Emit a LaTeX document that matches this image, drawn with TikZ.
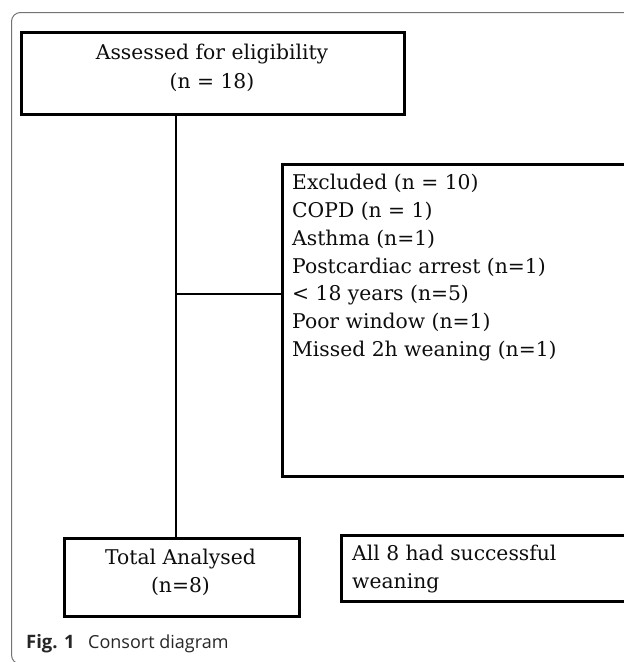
\documentclass[tikz,border=0pt]{standalone}
\usepackage{fontspec}
\setmainfont{DejaVu Serif}
\newfontfamily\capfont{Open Sans}
\begin{document}
\begin{tikzpicture}[x=1pt,y=-1pt,
  box/.style={draw=black, line width=2.6pt, rectangle, anchor=north west, inner sep=0pt},
  boxtext/.style={font=\fontsize{20.3}{27.8}\selectfont, text=black!95},
  link/.style={draw=black, line width=2.4pt},
  captext/.style={anchor=base west, inner sep=0pt, text=black!85}]
\useasboundingbox (0,0) rectangle (624,662);
\clip (0,0) rectangle (624,662);
\draw[black!55, line width=1pt, rounded corners=9pt] (11.5,12.5) rectangle (660,664);
% boxes
\node[box, minimum width=383pt, minimum height=82pt] (top) at (20,31) {};
\node[boxtext, align=center, font=\fontsize{20.3}{29.5}\selectfont] (toptext) at (212,68) {Assessed for eligibility\\(n = 18)};
\node[box, minimum width=380pt, minimum height=312pt] (ex) at (281,163) {};
\node[boxtext, align=left, anchor=north west, inner sep=0pt] (extext) at (292,174)
  {Excluded (n = 10)\\COPD (n = 1)\\Asthma (n=1)\\Postcardiac arrest (n=1)\\< 18 years (n=5)\\Poor window (n=1)\\Missed 2h weaning (n=1)};
\node[box, minimum width=235pt, minimum height=78pt] (tal) at (63,537) {};
\node[boxtext, align=center] (taltext) at (180.5,572) {Total Analysed\\(n=8)};
\node[box, minimum width=320pt, minimum height=66pt] (succ) at (340,534) {};
\node[boxtext, align=left, anchor=north west, inner sep=0pt] (succtext) at (352,545) {All 8 had successful\\weaning};
% connectors
\coordinate (j) at (176,294);
\draw[link] (j |- top.south) -- (j |- tal.north);
\draw[link] (j) -- (j -| ex.west);
% caption
\node[captext, font=\capfont\fontsize{18.5}{20}\selectfont\bfseries] (capfig) at (26,648) {Fig. 1};
\node[captext, font=\capfont\fontsize{18}{20}\selectfont] (captxt) at (88,648) {Consort diagram};
\end{tikzpicture}
\end{document}
